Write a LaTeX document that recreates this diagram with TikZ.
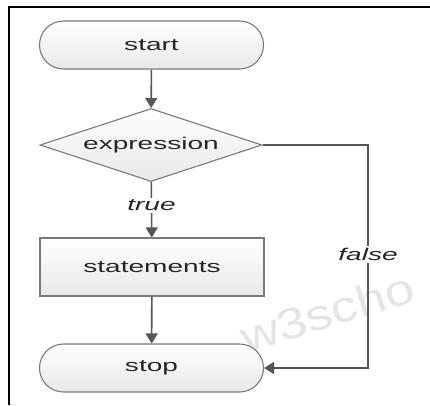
\documentclass[tikz,border=0pt]{standalone}
\usepackage{graphicx}
\usepackage{fontspec}
\setmainfont{Liberation Sans}
\usetikzlibrary{shapes.geometric,arrows.meta}
\newcommand\widetxt[1]{\scalebox{1.65}[1]{#1}}
\definecolor{lineg}{HTML}{555555}
\definecolor{bordg}{HTML}{7A7A7A}
\begin{document}
\begin{tikzpicture}[x=1pt,y=-1pt,
  box/.style={draw=bordg, line width=1.1pt, top color=white, bottom color=black!9,
    inner sep=0pt, font=\fontsize{17}{20}\selectfont, text=black!85},
  term/.style={box, rectangle, rounded corners=24pt, minimum width=224pt, minimum height=48pt},
  proc/.style={box, rectangle, minimum width=224pt, minimum height=58pt},
  dec/.style={box, diamond, aspect=3.04, minimum width=222pt, minimum height=73pt},
  conn/.style={draw=lineg, line width=1.6pt, -{Triangle[length=10pt,width=12pt]}},
  lbl/.style={fill=white, inner sep=2pt, font=\fontsize{17}{20}\selectfont\itshape, text=black!85},
  frame/.style={draw=black, line width=2.6pt}]
\useasboundingbox (0,0) rectangle (430,405);
\fill[white] (0,0) rectangle (430,405);
% watermark
\node[rotate=17, text=black!10, inner sep=0pt, anchor=south west,
  font=\fontsize{44}{50}\selectfont] (wm) at (246,354) {\scalebox{1.2}[1]{w3scho}};
% frame
\draw[frame] (9,405) -- (9,7) -- (430,7);
% nodes
\node[term] (start) at (151.5,45) {\widetxt{start}};
\node[dec]  (exp)   at (151,145) {\widetxt{expression}};
\node[proc] (stm)   at (152,267) {\widetxt{statements}};
\node[term] (stop)  at (151.5,368) {\widetxt{stop}};
\coordinate (fc) at (368,145);
\coordinate (fd) at (368,368);
% connectors
\draw[conn] (start) -- (exp);
\draw[conn] (exp) -- node[lbl, pos=0.42] {\widetxt{true}} (stm);
\draw[conn] (stm) -- (stop);
\draw[conn] (exp.east) -- (fc) -- node[lbl, pos=0.49] {\widetxt{false}} (fd) -- (stop.east);
\end{tikzpicture}
\end{document}
